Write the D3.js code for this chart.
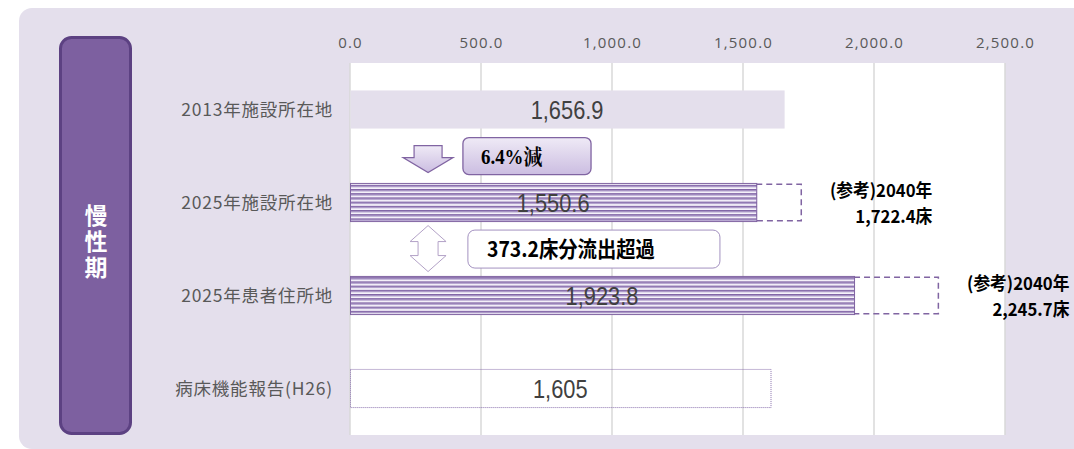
<!DOCTYPE html>
<html>
<head>
<meta charset="utf-8">
<script src="https://cdn.jsdelivr.net/npm/d3@7"></script>
<style>
  body { margin: 0; background: #fff; }
  svg { display: block; }
</style>
</head>
<body>
<div id="chart"></div>
<script>
// chart values
const categories = ["2013年施設所在地", "2025年施設所在地", "2025年患者住所地", "病床機能報告(H26)"]
const values = [1656.9, 1550.6, 1923.8, 1605]
const valueLabels = ["1,656.9", "1,550.6", "1,923.8", "1,605"]
const ref2040 = [null, 1722.4, 2245.7, null]
const ref2040Labels = [null, "1,722.4床", "2,245.7床", null]
const tickValues = [0, 500, 1000, 1500, 2000, 2500]
const phaseLabel = "慢性期"
const notes = ["6.4%減", "373.2床分流出超過"]

const width = 1074
const height = 449
const sans = "'Liberation Sans', Arial, sans-serif"
const cjk = "'Noto Sans CJK JP', sans-serif"

const svg = d3.select("#chart")
  .append("svg")
    .attr("width", width)
    .attr("height", height)

const defs = svg.append("defs")

// horizontal stripes for the 2025 bars
const stripe = defs.append("pattern")
    .attr("id", "stripe")
    .attr("patternUnits", "userSpaceOnUse")
    .attr("width", 8)
    .attr("height", 4.2)
stripe.append("rect").attr("width", 8).attr("height", 4.2).attr("fill", "#f6f3fa")
stripe.append("rect").attr("width", 8).attr("height", 1.5).attr("fill", "#7f62a5")
stripe.append("rect").attr("y", 1.5).attr("width", 8).attr("height", 1.1).attr("fill", "#b9a9d2")

const grad = defs.append("linearGradient")
    .attr("id", "boxGrad")
    .attr("x1", 0).attr("y1", 0).attr("x2", 0).attr("y2", 1)
grad.append("stop").attr("offset", "0%").attr("stop-color", "#efeaf6")
grad.append("stop").attr("offset", "100%").attr("stop-color", "#cbbde1")

// panel background
svg.append("rect")
    .attr("x", 19).attr("y", 8)
    .attr("width", 1120).attr("height", 441)
    .attr("rx", 13)
    .attr("fill", "#e4dfec")

// side label
svg.append("rect")
    .attr("x", 60.5).attr("y", 37.5)
    .attr("width", 70).attr("height", 396)
    .attr("rx", 11)
    .attr("fill", "#7d60a0")
    .attr("stroke", "#5c4182")
    .attr("stroke-width", 3)

svg.append("text")
    .attr("x", 96)
    .attr("y", 204)
    .attr("writing-mode", "tb")
    .style("writing-mode", "vertical-rl")
    .style("font-family", cjk)
    .style("font-weight", "bold")
    .style("font-size", "23px")
    .style("letter-spacing", "3px")
    .attr("fill", "#fff")
    .text(phaseLabel)

// scales
const x = d3.scaleLinear()
  .domain([0, 2500])
  .range([350, 1005])

const y = d3.scaleBand()
  .domain(categories)
  .range([63, 435])
  .paddingInner(0.59)
  .paddingOuter(0.295)

// plot area
svg.append("rect")
    .attr("x", x(0)).attr("y", 63)
    .attr("width", x(2500) - x(0)).attr("height", 372)
    .attr("fill", "#fff")

svg.append("g")
  .selectAll("line")
  .data(tickValues)
  .join("line")
    .attr("x1", d => x(d)).attr("x2", d => x(d))
    .attr("y1", 63).attr("y2", 435)
    .attr("stroke", "#d9d9d9")
    .attr("stroke-width", 1.5)

// top axis
const xAxis = svg.append("g")
    .attr("transform", "translate(0,51)")
    .call(d3.axisTop(x).tickValues(tickValues).tickSize(0).tickFormat(d3.format(",.1f")))
xAxis.select(".domain").remove()
xAxis.selectAll("text")
    .style("font-family", "'Open Sans', 'Noto Sans', sans-serif")
    .style("font-size", "15px")
    .style("letter-spacing", "1.2px")
    .attr("fill", "#595959")

// category labels
svg.append("g")
  .selectAll("text")
  .data(categories)
  .join("text")
    .attr("x", 333)
    .attr("y", d => y(d) + y.bandwidth() / 2)
    .attr("dy", "0.35em")
    .attr("text-anchor", "end")
    .style("font-family", cjk)
    .style("font-size", "17.5px")
    .style("letter-spacing", "0.8px")
    .attr("fill", "#595959")
    .text(d => d)

// 2040 reference boxes (dashed)
svg.append("g")
  .selectAll("rect")
  .data(categories.filter((c, i) => ref2040[i] != null))
  .join("rect")
    .attr("x", d => x(values[categories.indexOf(d)]))
    .attr("y", d => y(d) + 0.75)
    .attr("width", d => x(ref2040[categories.indexOf(d)]) - x(values[categories.indexOf(d)]))
    .attr("height", y.bandwidth() - 1.5)
    .attr("fill", "none")
    .attr("stroke", "#8064a2")
    .attr("stroke-width", 1.5)
    .attr("stroke-dasharray", "6,4")

// bars
svg.append("g")
  .selectAll("rect")
  .data(categories)
  .join("rect")
    .attr("x", x(0) + 0.5)
    .attr("y", d => y(d))
    .attr("width", (d, i) => x(values[i]) - x(0))
    .attr("height", y.bandwidth())
    .attr("fill", (d, i) => i === 0 ? "#e4dfec" : (i === 3 ? "none" : "url(#stripe)"))
    .attr("stroke", (d, i) => i === 3 ? "#8a72ad" : (i === 0 ? "none" : "#8064a2"))
    .attr("stroke-width", 1)
    .attr("stroke-dasharray", (d, i) => i === 3 ? "1,1" : null)

// value labels (narrow look: squeeze horizontally)
svg.append("g")
  .selectAll("text")
  .data(categories)
  .join("text")
    .attr("transform", (d, i) => `translate(${(x(0) + x(values[i])) / 2},${y(d) + y.bandwidth() / 2}) scale(0.84,1)`)
    .attr("dy", "0.36em")
    .attr("text-anchor", "middle")
    .style("font-family", sans)
    .style("font-size", "26px")
    .attr("fill", "#404040")
    .text((d, i) => valueLabels[i])

// 2040 reference text, two separate lines
const refCats = categories.filter((c, i) => ref2040[i] != null)
const refLine = (text, dy) => svg.append("g")
  .selectAll("text")
  .data(refCats)
  .join("text")
    .attr("transform", d => `translate(${x(ref2040[categories.indexOf(d)]) + 131},${y(d) + dy}) scale(0.94,1)`)
    .attr("text-anchor", "end")
    .style("font-family", cjk)
    .style("font-weight", "bold")
    .style("font-size", "17.8px")
    .attr("fill", "#000")
    .text(text)
refLine(() => "(参考)2040年", 13.5)
refLine(d => ref2040Labels[categories.indexOf(d)], 39.5)

// note 1: down arrow + "6.4%減"
const ay1 = y(categories[0]) + y.bandwidth()
const ax = x(298)
svg.append("path")
    .attr("d", `M${ax - 14},${ay1 + 17} h28 v12 h11 l-25,15 l-25,-15 h11 z`)
    .attr("fill", "url(#boxGrad)")
    .attr("stroke", "#8064a2")
    .attr("stroke-width", 1.2)

svg.append("rect")
    .attr("x", x(431)).attr("y", ay1 + 9)
    .attr("width", x(920) - x(431)).attr("height", 37)
    .attr("rx", 6)
    .attr("fill", "url(#boxGrad)")
    .attr("stroke", "#8064a2")
    .attr("stroke-width", 1.3)

svg.append("text")
    .attr("transform", `translate(${x(500)},${ay1 + 35}) scale(0.9,1)`)
    .style("font-family", "'Liberation Serif', 'DejaVu Serif', 'Noto Serif CJK JP', serif")
    .style("font-weight", "bold")
    .style("font-size", "21px")
    .attr("fill", "#000")
    .text(notes[0])

// note 2: up-down arrow + "373.2床分流出超過"
const ay2 = y(categories[1]) + y.bandwidth()
svg.append("path")
    .attr("d", `M${ax},${ay2 + 4} l18,16 h-8 v14 h8 l-18,16 l-18,-16 h8 v-14 h-8 z`)
    .attr("fill", "#fff")
    .attr("stroke", "#b3a2c7")
    .attr("stroke-width", 1)

svg.append("rect")
    .attr("x", x(450)).attr("y", ay2 + 8.5)
    .attr("width", x(1412) - x(450)).attr("height", 38)
    .attr("rx", 7)
    .attr("fill", "#fff")
    .attr("stroke", "#a391c0")
    .attr("stroke-width", 1)

svg.append("text")
    .attr("transform", `translate(${x(523)},${ay2 + 35}) scale(0.9,1)`)
    .style("font-family", cjk)
    .style("font-weight", "bold")
    .style("font-size", "21.5px")
    .attr("fill", "#000")
    .text(notes[1])
</script>
</body>
</html>
